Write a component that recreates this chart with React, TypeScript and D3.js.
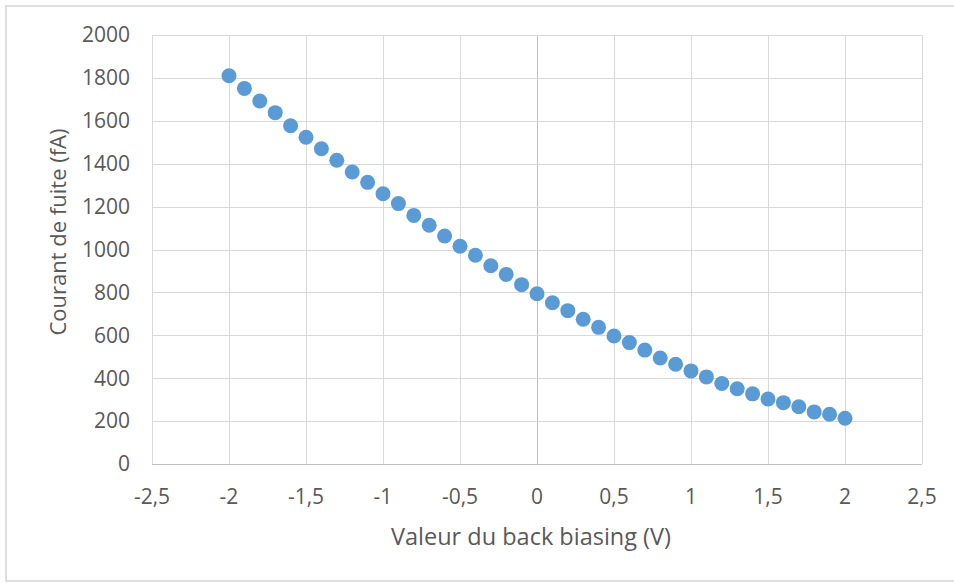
import React, { useEffect, useRef } from "react";
import * as d3 from "d3";

// back biasing voltage (V)
const biasValues = [
  -2, -1.9, -1.8, -1.7, -1.6, -1.5, -1.4, -1.3, -1.2, -1.1, -1, -0.9, -0.8, -0.7,
  -0.6, -0.5, -0.4, -0.3, -0.2, -0.1, 0, 0.1, 0.2, 0.3, 0.4, 0.5, 0.6, 0.7, 0.8,
  0.9, 1, 1.1, 1.2, 1.3, 1.4, 1.5, 1.6, 1.7, 1.8, 1.9, 2,
];

// leakage current (fA)
const leakCurrent = [
  1810, 1751, 1692, 1638, 1577, 1523, 1470, 1416, 1361, 1313, 1260, 1214, 1159,
  1113, 1063, 1015, 973, 924, 884, 836, 794, 752, 715, 675, 637, 597, 566, 531,
  494, 465, 434, 406, 375, 351, 327, 303, 286, 267, 243, 232, 213,
];

const xTicks = [-2.5, -2, -1.5, -1, -0.5, 0, 0.5, 1, 1.5, 2, 2.5];
const yTicks = [0, 200, 400, 600, 800, 1000, 1200, 1400, 1600, 1800, 2000];

const xTitle = "Valeur du back biasing (V)";
const yTitle = "Courant de fuite (fA)";

const W = 954;
const H = 583;

const App: React.FC = () => {
  const svgRef = useRef<SVGSVGElement | null>(null);

  useEffect(() => {
    document.body.style.margin = "0";
    const svg = d3.select(svgRef.current);
    svg.selectAll("*").remove();

    const font = "'Open Sans', sans-serif";
    const textColor = "#595959";

    // outer chart border (right edge falls outside the picture)
    svg
      .append("path")
      .attr("d", `M ${W + 2},6 H 6 V 581 H ${W + 2}`)
      .attr("fill", "none")
      .attr("stroke", "#dedede")
      .attr("stroke-width", 2);

    const x = d3.scaleLinear().domain([-2.5, 2.5]).range([152, 922]);
    const y = d3.scaleLinear().domain([0, 2000]).range([464, 35]);

    const g = svg.append("g");

    // grid
    g.selectAll("line.vgrid")
      .data(xTicks)
      .enter()
      .append("line")
      .attr("x1", (d) => Math.round(x(d)) + 0.5)
      .attr("x2", (d) => Math.round(x(d)) + 0.5)
      .attr("y1", y(0))
      .attr("y2", y(2000))
      .attr("stroke", (d) => (d === 0 ? "#bfbfbf" : "#d9d9d9"));

    g.selectAll("line.hgrid")
      .data(yTicks)
      .enter()
      .append("line")
      .attr("x1", x(-2.5))
      .attr("x2", x(2.5))
      .attr("y1", (d) => Math.round(y(d)) + 0.5)
      .attr("y2", (d) => Math.round(y(d)) + 0.5)
      .attr("stroke", (d) => (d === 0 ? "#bfbfbf" : "#d9d9d9"));

    // tick labels
    g.selectAll("text.ylab")
      .data(yTicks)
      .enter()
      .append("text")
      .attr("x", 130)
      .attr("y", (d) => y(d))
      .attr("dy", "0.35em")
      .attr("text-anchor", "end")
      .attr("font-family", font)
      .attr("font-size", 21)
      .attr("fill", textColor)
      .text((d) => String(d));

    g.selectAll("text.xlab")
      .data(xTicks)
      .enter()
      .append("text")
      .attr("x", (d) => x(d))
      .attr("y", 497)
      .attr("dy", "0.35em")
      .attr("text-anchor", "middle")
      .attr("font-family", font)
      .attr("font-size", 21)
      .attr("fill", textColor)
      .text((d) => String(d).replace(".", ","));

    // titles
    g.append("text")
      .attr("x", 531)
      .attr("y", 537)
      .attr("dy", "0.35em")
      .attr("text-anchor", "middle")
      .attr("font-family", font)
      .attr("font-size", 23.5)
      .attr("fill", textColor)
      .text(xTitle);

    g.append("text")
      .attr("transform", `translate(58,232) rotate(-90)`)
      .attr("dy", "0.35em")
      .attr("text-anchor", "middle")
      .attr("font-family", font)
      .attr("font-size", 22)
      .attr("fill", textColor)
      .text(yTitle);

    // points
    g.selectAll("circle")
      .data(biasValues.map((v, i) => ({ v, c: leakCurrent[i] })))
      .enter()
      .append("circle")
      .attr("cx", (d) => x(d.v))
      .attr("cy", (d) => y(d.c))
      .attr("r", 7.5)
      .attr("fill", "#5b9bd5");
  }, []);

  return <svg ref={svgRef} width={W} height={H} style={{ display: "block" }} />;
};

export default App;
